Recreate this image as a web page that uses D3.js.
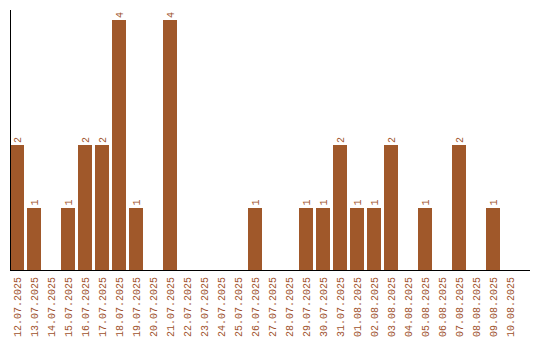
<!DOCTYPE html>
<html>
<head>
<meta charset="utf-8">
<script src="https://cdn.jsdelivr.net/npm/d3@7"></script>
<style>
body { margin: 0; background: #fff; }
text { font-family: "Liberation Mono", monospace; font-size: 10px; fill: #a0522d; }
</style>
</head>
<body>
<div id="chart"></div>
<script>
var dates = ["12.07.2025","13.07.2025","14.07.2025","15.07.2025","16.07.2025","17.07.2025","18.07.2025","19.07.2025","20.07.2025","21.07.2025","22.07.2025","23.07.2025","24.07.2025","25.07.2025","26.07.2025","27.07.2025","28.07.2025","29.07.2025","30.07.2025","31.07.2025","01.08.2025","02.08.2025","03.08.2025","04.08.2025","05.08.2025","06.08.2025","07.08.2025","08.08.2025","09.08.2025","10.08.2025"];
var counts = [2,1,0,1,2,2,4,1,0,4,0,0,0,0,1,0,0,1,1,2,1,1,2,0,1,0,2,0,1,0];

var width = 540, height = 340;
var left = 10, baseY = 270, topY = 20;

var svg = d3.select("#chart")
	.append("svg")
	.attr("width", width)
	.attr("height", height);

// band step 17, bar width 14
var x = d3.scaleBand()
	.domain(dates)
	.range([left, left + 17 * dates.length - 3])
	.paddingInner(3 / 17)
	.paddingOuter(0);

var y = d3.scaleLinear()
	.domain([0, d3.max(counts)])
	.range([baseY, topY]);

var data = dates.map(function (d, i) { return { date: d, value: counts[i] }; });

svg.selectAll(".bar")
	.data(data.filter(function (d) { return d.value > 0; }))
	.enter().append("rect")
	.attr("class", "bar")
	.attr("x", function (d) { return x(d.date); })
	.attr("y", function (d) { return y(d.value); })
	.attr("width", x.bandwidth())
	.attr("height", function (d) { return baseY - y(d.value); })
	.attr("shape-rendering", "crispEdges")
	.style("fill", "#a0582a");

// value labels, rotated
svg.selectAll(".val")
	.data(data.filter(function (d) { return d.value > 0; }))
	.enter().append("text")
	.attr("class", "val")
	.attr("transform", function (d) {
		return "translate(" + (x(d.date) + x.bandwidth() / 2 + 3.5) + "," + (y(d.value) - 2) + ") rotate(-90)";
	})
	.text(function (d) { return d.value; });

// axes
svg.append("line")
	.attr("x1", 10.5).attr("x2", 10.5)
	.attr("y1", 10).attr("y2", baseY)
	.style("stroke", "#000")
	.style("stroke-width", 1);

svg.append("line")
	.attr("x1", 10).attr("x2", 530)
	.attr("y1", baseY + 0.5).attr("y2", baseY + 0.5)
	.style("stroke", "#000")
	.style("stroke-width", 1);

// date labels
svg.selectAll(".tick-label")
	.data(dates)
	.enter().append("text")
	.attr("class", "tick-label")
	.attr("text-anchor", "end")
	.attr("transform", function (d) {
		return "translate(" + (x(d) + x.bandwidth() / 2 + 3.5) + "," + (baseY + 7) + ") rotate(-90)";
	})
	.text(function (d) { return d; });
</script>
</body>
</html>
